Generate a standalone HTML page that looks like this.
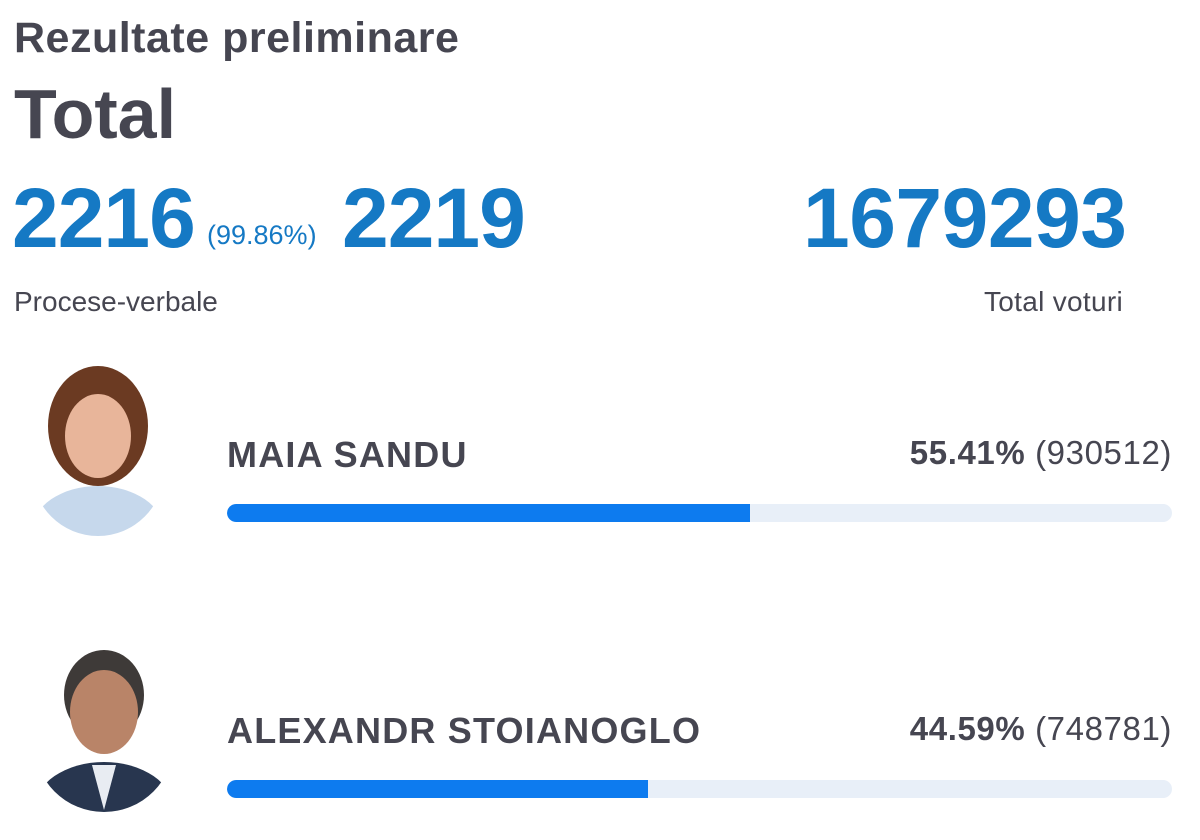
<!DOCTYPE html>
<html><head><meta charset="utf-8"><style>
body{margin:0;width:1200px;height:840px;background:#fff;font-family:"Liberation Sans",sans-serif;position:relative;overflow:hidden;color:#464651}
.a{position:absolute;white-space:nowrap}
.blue{color:#1579c4}
.bar{position:absolute;left:227px;width:945px;height:18px;border-radius:9px;background:#e8eff8;overflow:hidden}
.bar div{height:100%;background:#0d7bef;border-radius:9px 0 0 9px}
.ph{position:absolute;border-radius:50%;overflow:hidden}
</style></head><body>
<div class="a" style="left:14px;top:14px;font-size:43px;font-weight:bold;letter-spacing:0.5px">Rezultate preliminare</div>
<div class="a" style="left:14px;top:74px;font-size:70px;font-weight:bold">Total</div>
<div class="a blue" style="left:12px;top:170px;font-size:84px;font-weight:bold;letter-spacing:-1px">2216</div>
<div class="a blue" style="left:207px;top:220px;font-size:27px">(99.86%)</div>
<div class="a blue" style="left:342px;top:170px;font-size:84px;font-weight:bold;letter-spacing:-1px">2219</div>
<div class="a blue" style="left:803px;top:170px;font-size:84px;font-weight:bold;letter-spacing:-0.5px">1679293</div>
<div class="a" style="left:14px;top:286px;font-size:28px">Procese-verbale</div>
<div class="a" style="left:984px;top:286px;font-size:28px;letter-spacing:0.3px">Total voturi</div>

<div class="ph" style="left:32px;top:366px;width:132px;height:170px;border-radius:0 0 66px 66px">
<svg width="132" height="170"><ellipse cx="66" cy="60" rx="50" ry="60" fill="#6b3a22"/><ellipse cx="66" cy="70" rx="33" ry="42" fill="#e8b59a"/><ellipse cx="66" cy="165" rx="66" ry="45" fill="#c6d8ec"/></svg></div>
<div class="a" style="left:227px;top:434px;font-size:36px;font-weight:bold;letter-spacing:1.2px">MAIA SANDU</div>
<div class="a" style="right:28px;top:434px;font-size:33px;letter-spacing:0.6px"><b>55.41%</b> (930512)</div>
<div class="bar" style="top:504px"><div style="width:523px"></div></div>

<div class="ph" style="left:34px;top:640px;width:140px;height:172px;border-radius:0 0 70px 70px">
<svg width="140" height="172"><ellipse cx="70" cy="55" rx="40" ry="45" fill="#3e3a38"/><ellipse cx="70" cy="72" rx="34" ry="42" fill="#b98468"/><ellipse cx="70" cy="170" rx="70" ry="48" fill="#28364f"/><path d="M58 125 L70 170 L82 125 Z" fill="#e8ecf2"/></svg></div>
<div class="a" style="left:227px;top:710px;font-size:36px;font-weight:bold;letter-spacing:1.2px">ALEXANDR STOIANOGLO</div>
<div class="a" style="right:28px;top:710px;font-size:33px;letter-spacing:0.6px"><b>44.59%</b> (748781)</div>
<div class="bar" style="top:780px"><div style="width:421px"></div></div>
</body></html>
